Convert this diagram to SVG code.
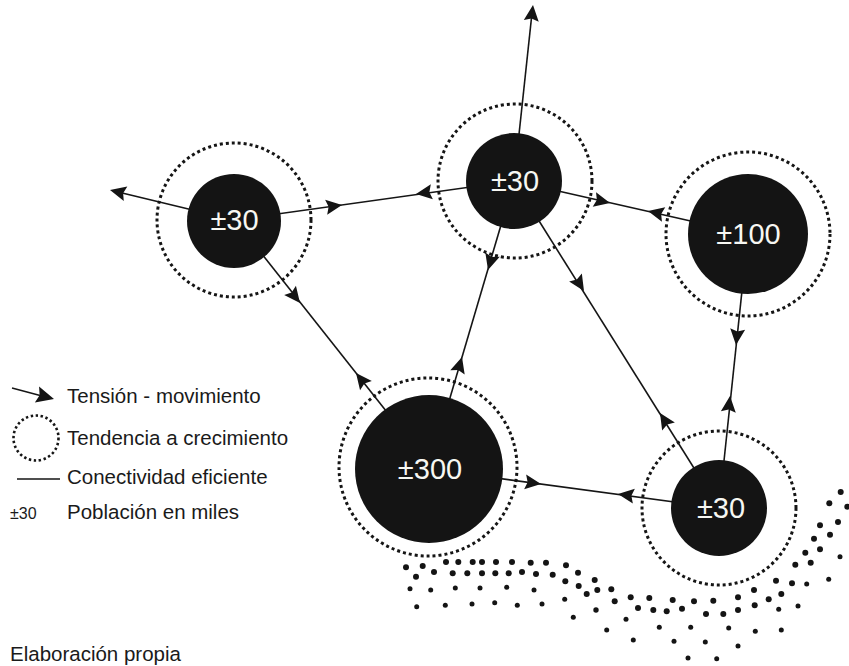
<svg xmlns="http://www.w3.org/2000/svg" xmlns:xlink="http://www.w3.org/1999/xlink" width="849" height="666" viewBox="0 0 849 666">
  <style>
    .link { stroke: #151515; stroke-width: 1.6; fill: none; }
    .ring { fill: none; stroke: #151515; stroke-width: 3; stroke-dasharray: 3 3; }
    .core { fill: #141414; }
    .val { fill: #f7f7f2; font-family: "Liberation Sans", Arial, sans-serif; font-size: 29px; text-anchor: middle; }
    .leg { fill: #1a1a1a; font-family: "Liberation Sans", Arial, sans-serif; font-size: 20.5px; }
    .dot { fill: #141414; }
  </style>
  <defs>
    <path id="ah" d="M0,0 L-16,-7.5 L-13.5,0 L-16,7.5 Z" fill="#141414"/>
  </defs>
  <rect width="849" height="666" fill="#ffffff"/>

  <!-- connectors: links between settlements and tension arrowheads -->
  <g id="connectors">
    <line class="link" x1="234" y1="220" x2="514" y2="181"/>
    <line class="link" x1="514" y1="181" x2="748" y2="234"/>
    <line class="link" x1="514" y1="181" x2="429" y2="469"/>
    <line class="link" x1="235" y1="220" x2="432" y2="469"/>
    <line class="link" x1="514" y1="181" x2="719" y2="508"/>
    <line class="link" x1="429" y1="469" x2="719" y2="508"/>
    <line class="link" x1="748" y1="234" x2="719" y2="508"/>
    <line class="link" x1="234" y1="220" x2="118" y2="192"/>
    <line class="link" x1="514" y1="181" x2="532" y2="13"/>

    <use href="#ah" transform="translate(342,205) rotate(-7.9)"/>
    <use href="#ah" transform="translate(416,194) rotate(172.1)"/>
    <use href="#ah" transform="translate(610,203) rotate(12.8)"/>
    <use href="#ah" transform="translate(648,211) rotate(192.8)"/>
    <use href="#ah" transform="translate(488,270) rotate(106.4)"/>
    <use href="#ah" transform="translate(462,357) rotate(-73.6)"/>
    <use href="#ah" transform="translate(300,303) rotate(51.6)"/>
    <use href="#ah" transform="translate(356,373) rotate(-128.4)"/>
    <use href="#ah" transform="translate(584,291) rotate(57.9)"/>
    <use href="#ah" transform="translate(660,413) rotate(-122.1)"/>
    <use href="#ah" transform="translate(541,484) rotate(7.7)"/>
    <use href="#ah" transform="translate(618,494) rotate(187.7)"/>
    <use href="#ah" transform="translate(736,345) rotate(96)"/>
    <use href="#ah" transform="translate(730,396) rotate(-84)"/>
    <use href="#ah" transform="translate(110,190) rotate(193.6)"/>
    <use href="#ah" transform="translate(533,5) rotate(-83.8)"/>
  </g>

  <!-- settlements -->
  <g id="node-a">
    <circle class="ring" cx="234" cy="220" r="77"/>
    <circle class="core" cx="234" cy="221" r="47"/>
    <text class="val" x="234.5" y="230">±30</text>
  </g>
  <g id="node-b">
    <circle class="ring" cx="515" cy="181" r="77"/>
    <circle class="core" cx="514" cy="181" r="48"/>
    <text class="val" x="515" y="191">±30</text>
  </g>
  <g id="node-c">
    <circle class="ring" cx="748" cy="234" r="82"/>
    <circle class="core" cx="748" cy="234" r="60"/>
    <text class="val" x="748.5" y="244">±100</text>
  </g>
  <g id="node-d">
    <circle class="ring" cx="428" cy="467" r="89"/>
    <circle class="core" cx="429" cy="469" r="74"/>
    <text class="val" x="430" y="479">±300</text>
  </g>
  <g id="node-e">
    <circle class="ring" cx="719" cy="508" r="77"/>
    <circle class="core" cx="719" cy="508" r="48"/>
    <text class="val" x="721" y="518">±30</text>
  </g>

  <!-- dotted terrain band -->
  <g id="terrain">
    <!-- upper rows -->
    <circle class="dot" cx="406" cy="567.3" r="3"/>
    <circle class="dot" cx="422.7" cy="566" r="3"/>
    <circle class="dot" cx="446" cy="562" r="3"/>
    <circle class="dot" cx="458.3" cy="562" r="3"/>
    <circle class="dot" cx="472.7" cy="562" r="3"/>
    <circle class="dot" cx="482" cy="562" r="3"/>
    <circle class="dot" cx="496" cy="562" r="3"/>
    <circle class="dot" cx="512" cy="562" r="3"/>
    <circle class="dot" cx="530.7" cy="562.7" r="3"/>
    <circle class="dot" cx="546" cy="562.7" r="3"/>
    <circle class="dot" cx="566" cy="565.3" r="3"/>
    <circle class="dot" cx="416" cy="576.7" r="3"/>
    <circle class="dot" cx="434" cy="572" r="3"/>
    <circle class="dot" cx="452.7" cy="573.3" r="3"/>
    <circle class="dot" cx="467.3" cy="573.3" r="3"/>
    <circle class="dot" cx="482" cy="573.3" r="3"/>
    <circle class="dot" cx="495.3" cy="573.3" r="3"/>
    <circle class="dot" cx="508.7" cy="573.3" r="3"/>
    <circle class="dot" cx="522" cy="572" r="3"/>
    <circle class="dot" cx="536" cy="574" r="3"/>
    <circle class="dot" cx="552.7" cy="574.7" r="3"/>
    <circle class="dot" cx="578" cy="572.7" r="3"/>
    <circle class="dot" cx="565.3" cy="581.3" r="3"/>
    <circle class="dot" cx="594.7" cy="580" r="3"/>
    <!-- middle rows -->
    <circle class="dot" cx="410" cy="588.7" r="2.5"/>
    <circle class="dot" cx="430.7" cy="590" r="2.5"/>
    <circle class="dot" cx="455.3" cy="588" r="2.5"/>
    <circle class="dot" cx="480" cy="588" r="2.5"/>
    <circle class="dot" cx="506.7" cy="587.3" r="2.5"/>
    <circle class="dot" cx="534" cy="590" r="2.5"/>
    <circle class="dot" cx="564.7" cy="599.3" r="2.5"/>
    <circle class="dot" cx="578.7" cy="586" r="3"/>
    <circle class="dot" cx="586.7" cy="594" r="3"/>
    <circle class="dot" cx="597.3" cy="590" r="3"/>
    <circle class="dot" cx="611.3" cy="589.3" r="3"/>
    <circle class="dot" cx="416.7" cy="606.7" r="2.5"/>
    <circle class="dot" cx="445.3" cy="605.3" r="2.5"/>
    <circle class="dot" cx="472" cy="604" r="2.5"/>
    <circle class="dot" cx="494.7" cy="602.7" r="2.5"/>
    <circle class="dot" cx="517.3" cy="605.3" r="2.5"/>
    <circle class="dot" cx="542" cy="604" r="2.5"/>
    <circle class="dot" cx="573.3" cy="617.3" r="2.5"/>
    <circle class="dot" cx="596" cy="610" r="2.7"/>
    <circle class="dot" cx="614.7" cy="601.3" r="3"/>
    <circle class="dot" cx="630.7" cy="597.3" r="3"/>
    <circle class="dot" cx="638" cy="608" r="3"/>
    <circle class="dot" cx="649.3" cy="598" r="3"/>
    <circle class="dot" cx="653.3" cy="610" r="3"/>
    <circle class="dot" cx="666.7" cy="611.3" r="3"/>
    <circle class="dot" cx="672.7" cy="600" r="3"/>
    <circle class="dot" cx="682" cy="608.7" r="3"/>
    <circle class="dot" cx="694" cy="601.3" r="3"/>
    <circle class="dot" cx="706" cy="614" r="3"/>
    <circle class="dot" cx="713.3" cy="600.7" r="3"/>
    <circle class="dot" cx="723.3" cy="614" r="3"/>
    <circle class="dot" cx="738" cy="597.3" r="3"/>
    <circle class="dot" cx="738" cy="610" r="3"/>
    <circle class="dot" cx="754" cy="590" r="3"/>
    <circle class="dot" cx="754.7" cy="605.3" r="3"/>
    <circle class="dot" cx="768.7" cy="599.3" r="3"/>
    <circle class="dot" cx="781.3" cy="594" r="3"/>
    <circle class="dot" cx="778.7" cy="609.3" r="2.5"/>
    <circle class="dot" cx="798" cy="606" r="2.5"/>
    <!-- lower sparse rows -->
    <circle class="dot" cx="606.7" cy="630" r="2.5"/>
    <circle class="dot" cx="626" cy="619.3" r="2.5"/>
    <circle class="dot" cx="659.3" cy="627.3" r="2.5"/>
    <circle class="dot" cx="690.7" cy="627.3" r="2.5"/>
    <circle class="dot" cx="728.7" cy="628" r="2.5"/>
    <circle class="dot" cx="755.3" cy="631.3" r="2.5"/>
    <circle class="dot" cx="781.3" cy="630" r="2.5"/>
    <circle class="dot" cx="633.3" cy="640" r="2.5"/>
    <circle class="dot" cx="674" cy="641.3" r="2.5"/>
    <circle class="dot" cx="705.3" cy="642" r="2.5"/>
    <circle class="dot" cx="738" cy="646" r="2.5"/>
    <circle class="dot" cx="688" cy="658" r="2.5"/>
    <circle class="dot" cx="716.7" cy="658.7" r="2.5"/>
    <!-- rising arm on the right -->
    <circle class="dot" cx="776" cy="580.7" r="3"/>
    <circle class="dot" cx="792" cy="583.3" r="3"/>
    <circle class="dot" cx="806.7" cy="584" r="2.5"/>
    <circle class="dot" cx="828.7" cy="579.3" r="2.5"/>
    <circle class="dot" cx="795.3" cy="564.7" r="3"/>
    <circle class="dot" cx="810.7" cy="562.7" r="3"/>
    <circle class="dot" cx="805.3" cy="552.7" r="3"/>
    <circle class="dot" cx="820" cy="549.3" r="3"/>
    <circle class="dot" cx="814" cy="538.7" r="3"/>
    <circle class="dot" cx="830" cy="534.7" r="3"/>
    <circle class="dot" cx="820" cy="525.3" r="3"/>
    <circle class="dot" cx="838" cy="522" r="3"/>
    <circle class="dot" cx="840" cy="556.7" r="2.5"/>
    <circle class="dot" cx="829.3" cy="503.3" r="3"/>
    <circle class="dot" cx="840.7" cy="492" r="3"/>
    <circle class="dot" cx="847.3" cy="506.7" r="3"/>
  </g>

  <!-- legend -->
  <g id="legend">
    <line class="link" x1="12" y1="388" x2="42" y2="396"/>
    <use href="#ah" transform="translate(54,399) rotate(14.7) scale(1.1)"/>
    <text class="leg" x="67" y="403">Tensión - movimiento</text>
    <circle cx="36" cy="438" r="22.5" fill="none" stroke="#151515" stroke-width="2.6" stroke-dasharray="2.4 2.6"/>
    <text class="leg" x="67" y="445">Tendencia a crecimiento</text>
    <line class="link" x1="17" y1="479" x2="60" y2="479"/>
    <text class="leg" x="67" y="484">Conectividad eficiente</text>
    <text class="leg" x="10" y="519" style="font-size:16px">±30</text>
    <text class="leg" x="67" y="519">Población en miles</text>
  </g>

  <text class="leg" x="10" y="661">Elaboración propia</text>
</svg>
